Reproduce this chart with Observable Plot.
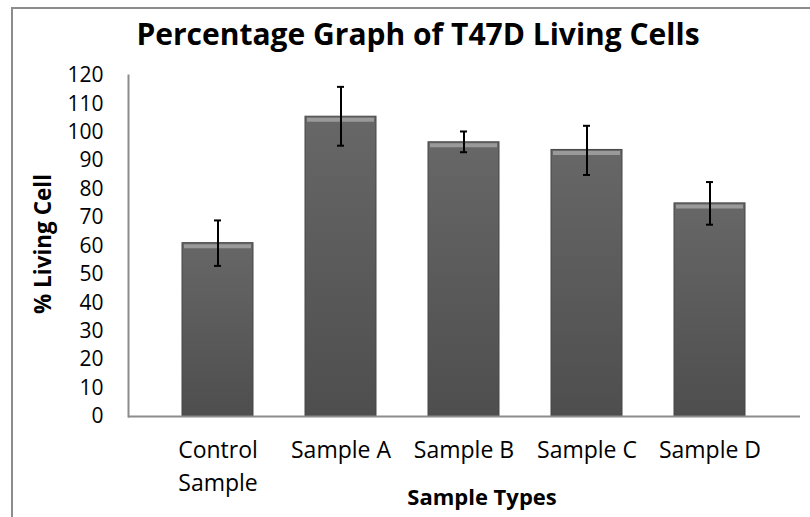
<!DOCTYPE html>
<html>
<head>
<meta charset="utf-8">
<script src="https://cdn.jsdelivr.net/npm/d3@7"></script>
<script src="https://cdn.jsdelivr.net/npm/@observablehq/plot@0.6"></script>
<style>
  html, body { margin: 0; padding: 0; background: #fff; }
  #wrap { position: relative; width: 810px; height: 517px; overflow: hidden; font-family: "Open Sans", sans-serif; }
  #border { position: absolute; left: 11px; top: 7px; width: 900px; height: 600px; border-left: 2px solid #8c8c8c; border-top: 2px solid #8c8c8c; }
  #title { position: absolute; left: 0; width: 836px; top: 14px; text-align: center; font-weight: 700; font-size: 30px; line-height: 40px; color: #000; white-space: nowrap; }
  #ytitle { position: absolute; left: 42px; top: 244px; transform: translate(-50%, -50%) rotate(-90deg); font-weight: 700; font-size: 22.5px; white-space: nowrap; }
  #xtitle { position: absolute; left: 482px; top: 481px; transform: translateX(-50%); font-weight: 700; font-size: 22px; white-space: nowrap; }
  #chart { position: absolute; left: 0; top: 0; }
</style>
</head>
<body>
<div id="wrap">
  <div id="border"></div>
  <div id="chart"></div>
  <div id="title">Percentage Graph of T47D Living Cells</div>
  <div id="ytitle">% Living Cell</div>
  <div id="xtitle">Sample Types</div>
</div>
<script>
const categories = ["Control Sample", "Sample A", "Sample B", "Sample C", "Sample D"];
const values = [61, 105.5, 96.5, 93.8, 75];
const errLow = [53, 95.3, 93, 85, 67.5];
const errHigh = [69, 116, 100.3, 102.3, 82.5];
const yTicks = [0, 10, 20, 30, 40, 50, 60, 70, 80, 90, 100, 110, 120];

const data = categories.map((c, i) => ({cat: c, v: values[i], lo: errLow[i], hi: errHigh[i]}));

const chart = Plot.plot({
  width: 810,
  height: 517,
  marginLeft: 128,
  marginRight: 10,
  marginTop: 75,
  marginBottom: 101,
  style: {fontFamily: "Open Sans, sans-serif", fontSize: "23px", color: "#000", background: "transparent"},
  x: {domain: categories, padding: 0.42},
  y: {domain: [0, 120]},
  marks: [
    Plot.barY(data, {x: "cat", y: "v", fill: "url(#barGrad)", stroke: "#474747", strokeWidth: 1}),
    Plot.tickY(data, {x: "cat", y: "v", stroke: "#9a9a9a", strokeWidth: 4, dy: 3, insetLeft: 2, insetRight: 2}),
    Plot.ruleX(data, {x: "cat", y1: "lo", y2: "hi", stroke: "#000", strokeWidth: 2}),
    Plot.tickY(data, {x: "cat", y: "lo", stroke: "#000", strokeWidth: 2, insetLeft: 32, insetRight: 32}),
    Plot.tickY(data, {x: "cat", y: "hi", stroke: "#000", strokeWidth: 2, insetLeft: 32, insetRight: 32}),
    Plot.ruleY([0], {stroke: "#8c8c8c", strokeWidth: 2}),
    Plot.frame({anchor: "left", stroke: "#8c8c8c", strokeWidth: 2}),
    Plot.axisX({tickSize: 0, tickPadding: 19, label: null, lineHeight: 1.4, fill: "#000", fontSize: 23,
      tickFormat: d => d === "Control Sample" ? "Control\nSample" : d}),
    Plot.axisY({ticks: yTicks, tickSize: 0, tickPadding: 25, label: null, fill: "#000", fontSize: 21})
  ]
});

// gradient definition for bars
const ns = "http://www.w3.org/2000/svg";
const defs = document.createElementNS(ns, "defs");
defs.innerHTML = `<linearGradient id="barGrad" x1="0" y1="0" x2="0" y2="1">
  <stop offset="0" stop-color="#676767"/>
  <stop offset="1" stop-color="#4e4e4e"/>
</linearGradient>`;
chart.insertBefore(defs, chart.firstChild);
document.getElementById("chart").appendChild(chart);
</script>
</body>
</html>
